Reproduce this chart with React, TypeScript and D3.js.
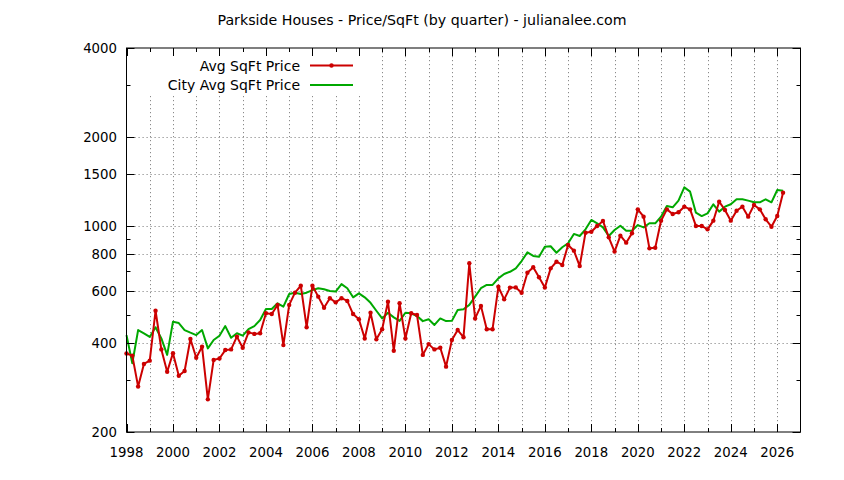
import * as d3 from 'd3';
import { useEffect, useRef } from 'react';

const title = 'Parkside Houses - Price/SqFt (by quarter) - julianalee.com';

// quarterly points, first one is 1998 Q1
const startYear = 1998;

const avgSqftPrice = [
  369, 363, 285, 340, 349, 515, 381, 320, 370, 310, 322, 413, 357, 389, 258, 351,
  355, 379, 381, 421, 386, 435, 430, 432, 505, 502, 539, 394, 539, 593, 626, 453,
  626, 575, 527, 568, 550, 568, 556, 502, 482, 415, 507, 412, 446, 553, 377, 546,
  415, 505, 498, 365, 397, 381, 386, 333, 410, 443, 419, 746, 485, 535, 446, 446,
  621, 563, 617, 618, 593, 693, 723, 669, 617, 717, 755, 736, 860, 823, 730, 947,
  954, 998, 1038, 913, 817, 925, 876, 943, 1136, 1073, 838, 842, 1040, 1136, 1096, 1110,
  1160, 1136, 998, 998, 972, 1040, 1206, 1130, 1040, 1124, 1160, 1073, 1175, 1136, 1051, 992,
  1078, 1294,
];

const cityAvgSqftPrice = [
  426, 342, 443, 432, 420, 453, 415, 365, 473, 468, 443, 434, 426, 443, 384, 410,
  424, 457, 417, 432, 424, 446, 457, 479, 522, 522, 546, 532, 587, 593, 587, 593,
  605, 614, 609, 601, 598, 634, 614, 572, 590, 572, 548, 515, 485, 507, 489, 476,
  507, 505, 494, 475, 482, 461, 485, 475, 476, 518, 521, 539, 575, 614, 630, 630,
  663, 686, 698, 717, 759, 812, 790, 785, 849, 852, 810, 845, 872, 938, 923, 972,
  1046, 1019, 987, 923, 967, 1000, 962, 962, 1005, 987, 1019, 1019, 1073, 1166, 1154, 1216,
  1349, 1304, 1107, 1078, 1101, 1182, 1116, 1160, 1182, 1229, 1229, 1216, 1200, 1200, 1229, 1200,
  1321, 1314,
];

const xLabelYears = [1998, 2000, 2002, 2004, 2006, 2008, 2010, 2012, 2014, 2016, 2018, 2020, 2022, 2024, 2026];
const xMinorYears = [1999, 2001, 2003, 2005, 2007, 2009, 2011, 2013, 2015, 2017, 2019, 2021, 2023, 2025];
const yMajorTicks = [200, 400, 600, 800, 1000, 1500, 2000, 4000];
const yMinorTicks = [300, 500, 700, 900, 3000];

const series = [
  { name: 'Avg SqFt Price', values: avgSqftPrice, color: '#cc0000', points: true },
  { name: 'City Avg SqFt Price', values: cityAvgSqftPrice, color: '#00a800', points: false },
];

export default function App() {
  const ref = useRef<SVGSVGElement | null>(null);

  useEffect(() => {
    if (!ref.current) return;

    const width = 844;
    const height = 480;
    const left = 126.5;
    const right = 800.5;
    const top = 48;
    const bottom = 432;
    const font = 'DejaVu Sans, sans-serif';
    const tickSize = 13.3;

    const svg = d3.select(ref.current).attr('viewBox', `0 0 ${width} ${height}`);
    svg.selectAll('*').remove();

    const x = d3.scaleLinear().domain([1998, 2027]).range([left, right]);
    const y = d3.scaleLog().domain([200, 4000]).range([bottom, top]);

    svg.append('rect').attr('width', width).attr('height', height).attr('fill', '#fff');

    /* ---------- grid ---------- */
    const grid = svg.append('g').attr('stroke', '#8a8a8a').attr('stroke-width', 1).attr('stroke-dasharray', '1.2,2.8');

    grid
      .selectAll('line.vx')
      .data([...xLabelYears, ...xMinorYears].filter((d) => d > 1998))
      .enter()
      .append('line')
      .attr('x1', (d) => Math.round(x(d)) + 0.5)
      .attr('x2', (d) => Math.round(x(d)) + 0.5)
      .attr('y1', top)
      .attr('y2', bottom);

    grid
      .selectAll('line.hy')
      .data(yMajorTicks.filter((d) => d > 200 && d < 4000))
      .enter()
      .append('line')
      .attr('x1', left)
      .attr('x2', right)
      .attr('y1', (d) => Math.round(y(d)) + 0.5)
      .attr('y2', (d) => Math.round(y(d)) + 0.5);

    /* ---------- opaque key box ---------- */
    svg.append('rect').attr('x', 140).attr('y', 51).attr('width', 230).attr('height', 44).attr('fill', '#fff');

    /* ---------- lines ---------- */
    const line = d3
      .line<number>()
      .x((_, i) => x(startYear + i * 0.25))
      .y((d) => y(d));

    // draw city first, then the red series on top
    [...series].reverse().forEach((s) => {
      svg
        .append('path')
        .attr('d', line(s.values))
        .attr('fill', 'none')
        .attr('stroke', s.color)
        .attr('stroke-width', 2)
        .attr('stroke-linejoin', 'round');
      if (s.points) {
        svg
          .append('g')
          .selectAll('circle')
          .data(s.values)
          .enter()
          .append('circle')
          .attr('cx', (_, i) => x(startYear + i * 0.25))
          .attr('cy', (d) => y(d))
          .attr('r', 2.2)
          .attr('fill', s.color);
      }
    });

    /* ---------- border + ticks ---------- */
    const axes = svg.append('g').attr('stroke', '#000').attr('stroke-width', 1).attr('fill', 'none');
    axes.append('rect').attr('x', left).attr('y', top).attr('width', right - left).attr('height', bottom - top);

    const tick = (x1: number, y1: number, x2: number, y2: number) =>
      axes.append('line').attr('x1', x1).attr('y1', y1).attr('x2', x2).attr('y2', y2);

    xLabelYears.forEach((d) => {
      const px = Math.round(x(d)) + 0.5;
      tick(px, bottom, px, bottom - 8);
      tick(px, top, px, top + 8);
    });
    xMinorYears.forEach((d) => {
      const px = Math.round(x(d)) + 0.5;
      tick(px, bottom, px, bottom - 4);
      tick(px, top, px, top + 4);
    });
    yMajorTicks.forEach((d) => {
      const py = Math.round(y(d)) + 0.5;
      tick(left, py, left + 8, py);
      tick(right, py, right - 8, py);
    });
    yMinorTicks.forEach((d) => {
      const py = Math.round(y(d)) + 0.5;
      tick(left, py, left + 4, py);
      tick(right, py, right - 4, py);
    });

    /* ---------- labels ---------- */
    const text = svg.append('g').attr('font-family', font).attr('font-size', tickSize).attr('fill', '#000');

    text
      .selectAll('text.xl')
      .data(xLabelYears)
      .enter()
      .append('text')
      .attr('x', (d) => x(d))
      .attr('y', 457)
      .attr('text-anchor', 'middle')
      .text((d) => d);

    text
      .selectAll('text.yl')
      .data(yMajorTicks)
      .enter()
      .append('text')
      .attr('x', 117)
      .attr('y', (d) => y(d) + 5)
      .attr('text-anchor', 'end')
      .text((d) => d);

    text
      .append('text')
      .attr('x', width / 2)
      .attr('y', 25)
      .attr('text-anchor', 'middle')
      .attr('font-size', 14.2)
      .text(title);

    /* ---------- legend ---------- */
    series.forEach((s, i) => {
      const ly = 65.5 + i * 19.5;
      text
        .append('text')
        .attr('x', 300)
        .attr('y', ly + 5)
        .attr('text-anchor', 'end')
        .attr('font-size', 14)
        .text(s.name);
      svg
        .append('line')
        .attr('x1', 310)
        .attr('x2', 353)
        .attr('y1', ly)
        .attr('y2', ly)
        .attr('stroke', s.color)
        .attr('stroke-width', 2);
      if (s.points) {
        svg.append('circle').attr('cx', 331.5).attr('cy', ly).attr('r', 2.2).attr('fill', s.color);
      }
    });
  }, []);

  return <svg ref={ref} width={844} height={480} style={{ position: 'absolute', left: 0, top: 0 }} />;
}
